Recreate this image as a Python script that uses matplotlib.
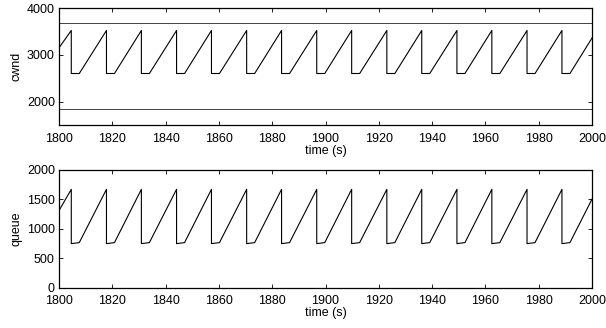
import matplotlib
matplotlib.use("Agg")
import matplotlib.pyplot as plt
import numpy as np

plt.rcParams['font.family'] = ['Liberation Sans', 'DejaVu Sans']
plt.rcParams['font.size'] = 9

# times (s) where cwnd is cut back
drop_times = [1804.6, 1817.8, 1830.9, 1844.1, 1857.2, 1870.4, 1883.5, 1896.7,
              1909.8, 1923.0, 1936.1, 1949.3, 1962.4, 1975.6, 1988.7]
hold_time = 3.0  # seconds spent at the bottom after each cut

# cwnd trace levels (packets)
cwnd_start, cwnd_peak, cwnd_low, cwnd_end = 3150, 3520, 2600, 3360
cwnd_upper, cwnd_lower = 3680, 1835

# queue trace levels (packets)
queue_start, queue_peak, queue_low, queue_low_end, queue_end = 1310, 1670, 748, 765, 1505

t_range = (1800, 2000)


def sawtooth(start, peak, low, low_end, end):
    t = [t_range[0]]
    v = [start]
    for td in drop_times:
        t += [td, td, td + hold_time]
        v += [peak, low, low_end]
    t.append(t_range[1])
    v.append(end)
    return np.array(t), np.array(v)


def style_axes(ax):
    ax.tick_params(direction='in', length=3, width=0.6, top=True, right=True)
    ax.tick_params(axis='x', pad=5.5)
    ax.tick_params(axis='y', pad=3)
    for s in ax.spines.values():
        s.set_linewidth(0.9)
    ax.set_xlim(*t_range)
    ax.set_xticks(np.arange(1800, 2001, 20))
    ax.set_xlabel("time (s)", labelpad=0)


fig = plt.figure(figsize=(6.06, 3.28), dpi=100)
ax1 = fig.add_axes([0.0974, 0.619, 0.8796, 0.3566])
ax2 = fig.add_axes([0.0974, 0.123, 0.8796, 0.359])

t, v = sawtooth(cwnd_start, cwnd_peak, cwnd_low, cwnd_low, cwnd_end)
ax1.plot(t, v, color='black', lw=0.8)
ax1.axhline(cwnd_upper, color='#222222', lw=0.6)
ax1.axhline(cwnd_lower, color='#222222', lw=0.6)
style_axes(ax1)
ax1.set_ylim(1500, 4000)
ax1.set_yticks([2000, 3000, 4000])
ax1.set_ylabel("cwnd", labelpad=3)

t, v = sawtooth(queue_start, queue_peak, queue_low, queue_low_end, queue_end)
ax2.plot(t, v, color='black', lw=0.8)
style_axes(ax2)
ax2.set_ylim(0, 2000)
ax2.set_yticks([0, 500, 1000, 1500, 2000])
ax2.set_ylabel("queue", labelpad=3)

fig.savefig("out.png", dpi=100)
